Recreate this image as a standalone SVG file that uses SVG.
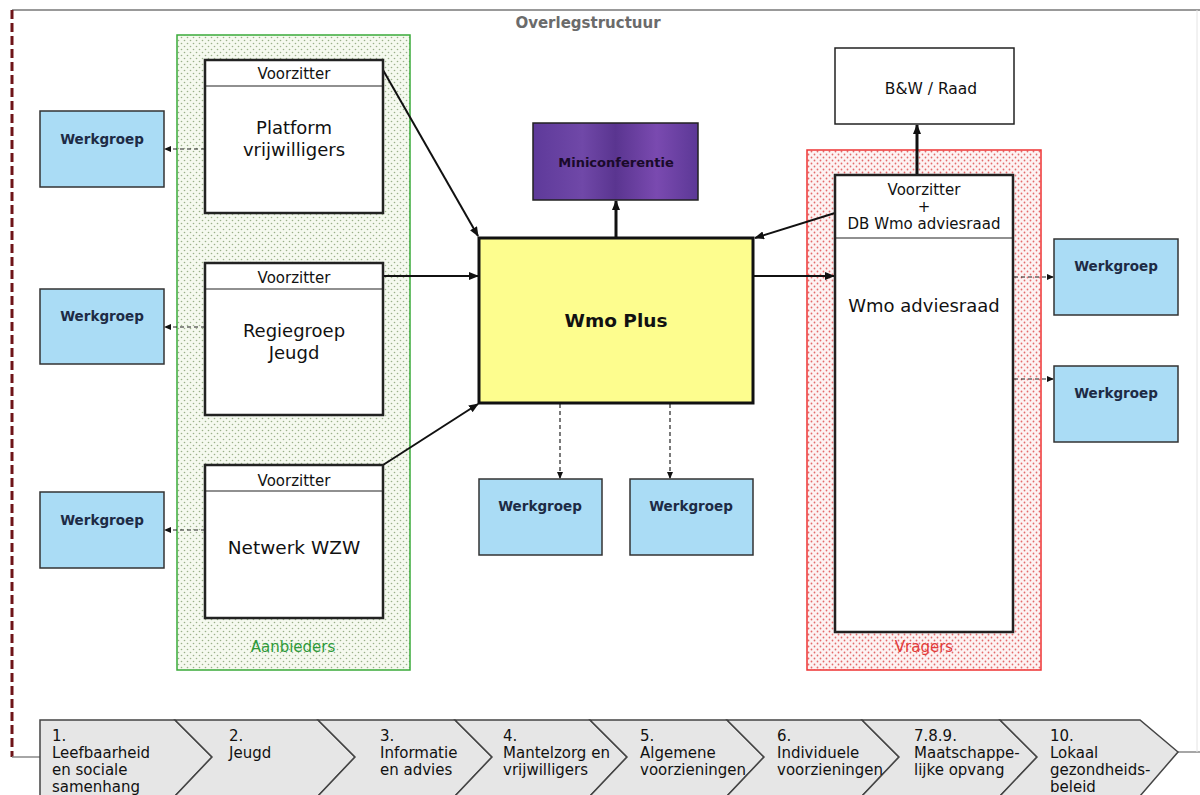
<svg xmlns="http://www.w3.org/2000/svg" width="1200" height="795" viewBox="0 0 1200 795">
<style>
.t{font-family:"DejaVu Sans","Verdana",sans-serif;fill:#111}
.box{fill:#fff;stroke:#222;stroke-width:2.5}
.hd{stroke:#222;stroke-width:1.2}
.wg{fill:#aadcf5;stroke:#333;stroke-width:1.5}
.wgt{font-family:"DejaVu Sans",sans-serif;font-weight:bold;font-size:13.5px;fill:#1d2b45;text-anchor:middle}
.vz{font-size:15px;text-anchor:middle}
.big{font-size:18px;text-anchor:middle}
.ar{stroke:#111;stroke-width:2;fill:none;marker-end:url(#ah)}
.da{stroke:#222;stroke-width:1.2;stroke-dasharray:4 3;fill:none;marker-end:url(#sh)}
.chev{fill:#e6e6e6;stroke:#444;stroke-width:1.5}
.ct{font-family:"DejaVu Sans",sans-serif;font-size:15px;fill:#111}
</style>
<defs>
<marker id="ah" markerWidth="10" markerHeight="8" refX="9" refY="4" orient="auto" markerUnits="userSpaceOnUse"><path d="M0,0 L10,4 L0,8 z" fill="#111"/></marker>
<marker id="sh" markerWidth="7" markerHeight="6" refX="6" refY="3" orient="auto" markerUnits="userSpaceOnUse"><path d="M0,0 L7,3 L0,6 z" fill="#111"/></marker>
<pattern id="gdots" width="6" height="6" patternUnits="userSpaceOnUse"><rect width="6" height="6" fill="#f5f9ef"/><circle cx="1.5" cy="1.5" r="0.8" fill="#9bb08a"/><circle cx="4.5" cy="4.5" r="0.8" fill="#9bb08a"/></pattern>
<pattern id="rdots" width="6" height="6" patternUnits="userSpaceOnUse"><rect width="6" height="6" fill="#fdf3f3"/><circle cx="1.5" cy="1.5" r="0.9" fill="#e46a6a"/><circle cx="4.5" cy="4.5" r="0.9" fill="#e46a6a"/></pattern>
<linearGradient id="purp" x1="0" y1="0" x2="1" y2="0"><stop offset="0" stop-color="#5e3a9a"/><stop offset="0.3" stop-color="#7048a8"/><stop offset="0.5" stop-color="#5a3590"/><stop offset="0.75" stop-color="#7a4ab0"/><stop offset="1" stop-color="#5c3896"/></linearGradient>
</defs>
<rect width="1200" height="795" fill="#fff"/>
<g id="frame">
<line x1="12" y1="10" x2="1200" y2="10" stroke="#999" stroke-width="2"/>
<line x1="12" y1="10" x2="12" y2="757" stroke="#6e1418" stroke-width="3" stroke-dasharray="9 4"/>
<line x1="12" y1="757" x2="40" y2="757" stroke="#888" stroke-width="1.5"/>
<line x1="1178" y1="752" x2="1200" y2="752" stroke="#888" stroke-width="1.5"/>
<line x1="1197" y1="10" x2="1197" y2="752" stroke="#e4e4e4" stroke-width="1"/>
<text x="588" y="28" class="t" font-size="15" font-weight="bold" text-anchor="middle" style="fill:#6b6b6b">Overlegstructuur</text>
</g>
<g id="aanbieders">
<rect x="177" y="35" width="233" height="635" fill="url(#gdots)" stroke="#3aaa3a" stroke-width="1.5"/>
<text x="293" y="652" class="t" font-size="15" text-anchor="middle" style="fill:#2e9a3a">Aanbieders</text>
</g>
<g id="vragers">
<rect x="807" y="150" width="234" height="520" fill="url(#rdots)" stroke="#e33" stroke-width="1.5"/>
<text x="924" y="652" class="t" font-size="15" text-anchor="middle" style="fill:#e23c3c">Vragers</text>
</g>
<g id="connectors">
<line class="ar" x1="383" y1="70" x2="478" y2="236"/>
<line class="ar" x1="383" y1="276" x2="478" y2="276"/>
<line class="ar" x1="383" y1="465" x2="478" y2="404"/>
<line class="ar" x1="835" y1="213" x2="755" y2="238"/>
<line class="ar" x1="753" y1="276" x2="834" y2="276"/>
<line class="ar" x1="616" y1="237" x2="616" y2="201" style="stroke-width:3"/>
<line class="ar" x1="917" y1="175" x2="917" y2="125" style="stroke-width:3"/>
<line class="da" x1="205" y1="149" x2="165" y2="149"/>
<line class="da" x1="205" y1="327" x2="165" y2="327"/>
<line class="da" x1="205" y1="530" x2="165" y2="530"/>
<line class="da" x1="560" y1="404" x2="560" y2="478"/>
<line class="da" x1="670" y1="404" x2="670" y2="478"/>
<line class="da" x1="1014" y1="277" x2="1053" y2="277"/>
<line class="da" x1="1014" y1="379" x2="1053" y2="379"/>
</g>
<g id="platform">
<rect class="box" x="205" y="60" width="178" height="153"/>
<line class="hd" x1="205" y1="86" x2="383" y2="86"/>
<text class="t vz" x="294" y="79">Voorzitter</text>
<text class="t big" x="294" y="134">Platform</text>
<text class="t big" x="294" y="156">vrijwilligers</text>
</g>
<g id="regiegroep">
<rect class="box" x="205" y="263" width="178" height="152"/>
<line class="hd" x1="205" y1="289" x2="383" y2="289"/>
<text class="t vz" x="294" y="283">Voorzitter</text>
<text class="t big" x="294" y="337">Regiegroep</text>
<text class="t big" x="294" y="359">Jeugd</text>
</g>
<g id="netwerk">
<rect class="box" x="205" y="465" width="178" height="153"/>
<line class="hd" x1="205" y1="491" x2="383" y2="491"/>
<text class="t vz" x="294" y="486">Voorzitter</text>
<text class="t" x="294" y="554" font-size="18.5" text-anchor="middle">Netwerk WZW</text>
</g>
<g id="wg-left-1"><rect class="wg" x="40" y="111" width="124" height="76"/><text class="wgt" x="102" y="144">Werkgroep</text></g>
<g id="wg-left-2"><rect class="wg" x="40" y="289" width="124" height="75"/><text class="wgt" x="102" y="321">Werkgroep</text></g>
<g id="wg-left-3"><rect class="wg" x="40" y="492" width="124" height="76"/><text class="wgt" x="102" y="525">Werkgroep</text></g>
<g id="miniconferentie">
<rect x="533" y="123" width="165" height="77" fill="url(#purp)" stroke="#222" stroke-width="1.5"/>
<text x="616" y="167" class="t" font-size="13" font-weight="bold" text-anchor="middle" style="fill:#1a0a2a">Miniconferentie</text>
</g>
<g id="wmoplus">
<rect x="479" y="238" width="274" height="165" fill="#fdfd8e" stroke="#111" stroke-width="3"/>
<text x="616" y="327" class="t" font-size="18.5" font-weight="bold" text-anchor="middle">Wmo Plus</text>
</g>
<g id="wg-bottom-1"><rect class="wg" x="479" y="479" width="123" height="76"/><text class="wgt" x="540" y="511">Werkgroep</text></g>
<g id="wg-bottom-2"><rect class="wg" x="630" y="479" width="123" height="76"/><text class="wgt" x="691" y="511">Werkgroep</text></g>
<g id="bw-raad">
<rect x="835" y="48" width="179" height="76" fill="#fff" stroke="#222" stroke-width="1.5"/>
<text class="t" x="931" y="94" font-size="15.5" text-anchor="middle">B&amp;W / Raad</text>
</g>
<g id="wmo-adviesraad">
<rect class="box" x="835" y="175" width="178" height="457"/>
<line class="hd" x1="835" y1="238" x2="1013" y2="238"/>
<text class="t vz" x="924" y="195">Voorzitter</text>
<text class="t vz" x="924" y="212">+</text>
<text class="t vz" x="924" y="229">DB Wmo adviesraad</text>
<text class="t" x="924" y="312" font-size="18" text-anchor="middle">Wmo adviesraad</text>
</g>
<g id="wg-right-1"><rect class="wg" x="1054" y="239" width="124" height="76"/><text class="wgt" x="1116" y="271">Werkgroep</text></g>
<g id="wg-right-2"><rect class="wg" x="1054" y="366" width="124" height="76"/><text class="wgt" x="1116" y="398">Werkgroep</text></g>
<g id="chevrons">
<polygon class="chev" points="40,720 175,720 212,757 175,796 40,796"/>
<polygon class="chev" points="175,720 318,720 355,757 318,796 175,796 212,757"/>
<polygon class="chev" points="318,720 455,720 492,757 455,796 318,796 355,757"/>
<polygon class="chev" points="455,720 590,720 627,757 590,796 455,796 492,757"/>
<polygon class="chev" points="590,720 727,720 764,757 727,796 590,796 627,757"/>
<polygon class="chev" points="727,720 862,720 899,757 862,796 727,796 764,757"/>
<polygon class="chev" points="862,720 1000,720 1037,757 1000,796 862,796 899,757"/>
<polygon class="chev" points="1000,720 1140,720 1178,752 1140,796 1000,796 1037,757"/>
<text class="ct" x="52" y="741">1.</text><text class="ct" x="52" y="758">Leefbaarheid</text><text class="ct" x="52" y="775">en sociale</text><text class="ct" x="52" y="792">samenhang</text>
<text class="ct" x="229" y="741">2.</text><text class="ct" x="229" y="758">Jeugd</text>
<text class="ct" x="380" y="741">3.</text><text class="ct" x="380" y="758">Informatie</text><text class="ct" x="380" y="775">en advies</text>
<text class="ct" x="503" y="741">4.</text><text class="ct" x="503" y="758">Mantelzorg en</text><text class="ct" x="503" y="775">vrijwilligers</text>
<text class="ct" x="640" y="741">5.</text><text class="ct" x="640" y="758">Algemene</text><text class="ct" x="640" y="775">voorzieningen</text>
<text class="ct" x="777" y="741">6.</text><text class="ct" x="777" y="758">Individuele</text><text class="ct" x="777" y="775">voorzieningen</text>
<text class="ct" x="914" y="741">7.8.9.</text><text class="ct" x="914" y="758">Maatschappe-</text><text class="ct" x="914" y="775">lijke opvang</text>
<text class="ct" x="1050" y="741">10.</text><text class="ct" x="1050" y="758">Lokaal</text><text class="ct" x="1050" y="775">gezondheids-</text><text class="ct" x="1050" y="792">beleid</text>
</g>
</svg>
